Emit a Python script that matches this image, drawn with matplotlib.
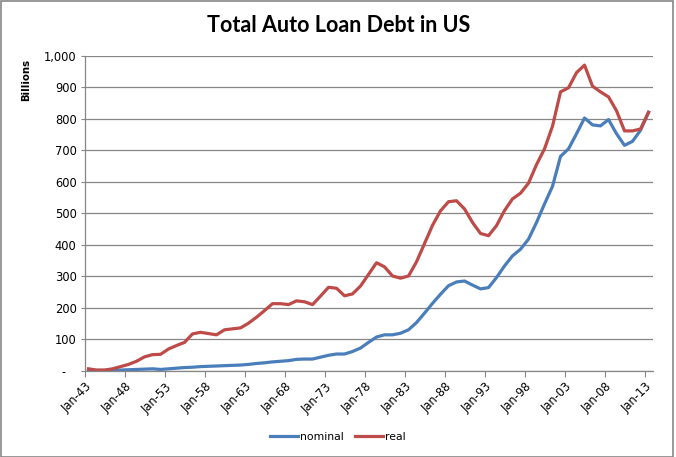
import matplotlib.pyplot as plt
from matplotlib.lines import Line2D
from matplotlib.patches import Rectangle
from matplotlib.ticker import FuncFormatter

years = list(range(1943, 2014))
nominal = [1, 1, 1, 1, 2, 3, 4, 5, 6, 4,
           6, 8, 10, 11, 13, 14, 15, 16, 17, 18,
           20, 23, 25, 28, 30, 32, 36, 37, 37, 43,
           49, 53, 53, 61, 72, 90, 107, 114, 114, 119,
           130, 153, 183, 214, 243, 270, 282, 285, 272, 260,
           264, 296, 333, 365, 386, 418, 471, 530, 586, 681,
           705, 753, 803, 781, 778, 798, 753, 716, 729, 764,
           821]
real = [6, 2, 2, 6, 13, 20, 30, 44, 51, 52,
        69, 80, 90, 117, 122, 118, 114, 130, 133, 136,
        151, 170, 191, 213, 213, 210, 222, 219, 210, 237,
        265, 262, 238, 244, 269, 306, 343, 330, 301, 294,
        301, 346, 404, 462, 508, 537, 540, 514, 471, 436,
        429, 461, 509, 546, 564, 596, 655, 705, 777, 886,
        899, 947, 971, 904, 886, 870, 826, 762, 762, 768,
        821]
tick_years = [1943, 1948, 1953, 1958, 1963, 1968, 1973, 1978, 1983, 1988,
              1993, 1998, 2003, 2008, 2013]
tick_labels = ['Jan-43', 'Jan-48', 'Jan-53', 'Jan-58', 'Jan-63', 'Jan-68', 'Jan-73',
               'Jan-78', 'Jan-83', 'Jan-88', 'Jan-93', 'Jan-98', 'Jan-03', 'Jan-08', 'Jan-13']

blue = '#4A7EBB'
red = '#BE4B48'
grey = '#868686'

W, H = 676, 457
fig = plt.figure(figsize=(W / 100, H / 100), dpi=100)
ax = fig.add_axes([85 / W, 1 - 370.7 / H, (653 - 85) / W, (370.7 - 56) / H])

# points sit a bit after the January tick, like the excel date axis
x = [y + 0.44 for y in years]
ax.plot(x, nominal, color=blue, lw=2.3, solid_joinstyle='round', label='nominal')
ax.plot(x, real, color=red, lw=2.3, solid_joinstyle='round', label='real')

ax.set_xlim(1943, 2014)
ax.set_ylim(0, 1000)
ax.set_yticks(range(0, 1001, 100))
ax.yaxis.set_major_formatter(FuncFormatter(lambda v, p: '-   ' if v == 0 else '{:,.0f}'.format(v)))
ax.set_xticks(tick_years)
ax.set_xticklabels(tick_labels, rotation=45, ha='right', rotation_mode='anchor')
ax.tick_params(axis='x', length=4, width=0.8, color=grey, labelsize=8.3, pad=3)
ax.tick_params(axis='y', length=3, width=0.8, color=grey, labelsize=8.3, pad=3)
ax.grid(axis='y', color=grey, lw=0.9)
ax.set_axisbelow(True)
for s in ['top', 'right']:
    ax.spines[s].set_visible(False)
for s in ['left', 'bottom']:
    ax.spines[s].set_color(grey)
    ax.spines[s].set_linewidth(0.9)

fig.text(339 / W, 1 - 25 / H, 'Total Auto Loan Debt in US', ha='center', va='center',
         fontsize=15.5, fontweight='bold', family='Lato')
fig.text(26 / W, 1 - 80 / H, 'Billions', rotation=90, ha='center', va='center',
         fontsize=7.3, fontweight='bold')

handles = [Line2D([], [], color=blue, lw=2.3), Line2D([], [], color=red, lw=2.3)]
fig.legend(handles, ['nominal', 'real'], loc='center', bbox_to_anchor=(338 / W, 1 - 437 / H),
           ncol=2, frameon=False, fontsize=7.8, handlelength=2.6, handletextpad=0.2,
           columnspacing=1.0)

fig.add_artist(Rectangle((0.5 / W, 0.5 / H), 672.5 / W, 455.5 / H, transform=fig.transFigure,
                         fill=False, edgecolor=grey, lw=1.2))

fig.savefig('out.png', dpi=100)
